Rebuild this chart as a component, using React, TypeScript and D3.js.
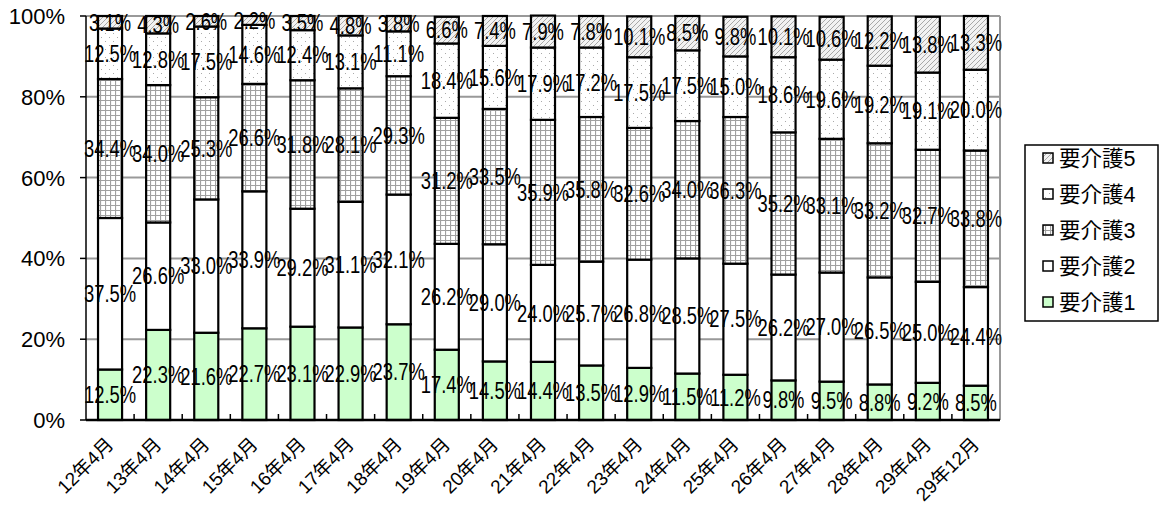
import React from 'react';
import * as d3 from 'd3';

const categories = ['12年4月', '13年4月', '14年4月', '15年4月', '16年4月', '17年4月', '18年4月', '19年4月', '20年4月', '21年4月', '22年4月', '23年4月', '24年4月', '25年4月', '26年4月', '27年4月', '28年4月', '29年4月', '29年12月'];
const kaigo1 = [12.5, 22.3, 21.6, 22.7, 23.1, 22.9, 23.7, 17.4, 14.5, 14.4, 13.5, 12.9, 11.5, 11.2, 9.8, 9.5, 8.8, 9.2, 8.5];
const kaigo2 = [37.5, 26.6, 33.0, 33.9, 29.2, 31.1, 32.1, 26.2, 29.0, 24.0, 25.7, 26.8, 28.5, 27.5, 26.2, 27.0, 26.5, 25.0, 24.4];
const kaigo3 = [34.4, 34.0, 25.3, 26.6, 31.8, 28.1, 29.3, 31.2, 33.5, 35.9, 35.8, 32.6, 34.0, 36.3, 35.2, 33.1, 33.2, 32.7, 33.8];
const kaigo4 = [12.5, 12.8, 17.5, 14.6, 12.4, 13.1, 11.1, 18.4, 15.6, 17.9, 17.2, 17.5, 17.5, 15.0, 18.6, 19.6, 19.2, 19.1, 20.0];
const kaigo5 = [3.1, 4.3, 2.6, 2.2, 3.5, 4.8, 3.8, 6.6, 7.4, 7.9, 7.8, 10.1, 8.5, 9.8, 10.1, 10.6, 12.2, 13.8, 13.3];
const seriesNames = ['要介護1', '要介護2', '要介護3', '要介護4', '要介護5'];
const yTicks = [0, 20, 40, 60, 80, 100];

const W = 1163;
const H = 508;
const numFont = '"Liberation Sans", Arial, sans-serif';
const jpFont = '"Liberation Sans", "Noto Sans CJK JP", sans-serif';

const fills = ['#CCFFCC', '#FFFFFF', 'url(#patGrid)', 'url(#patDots)', 'url(#patHatch)'];

export default function App() {
  const plotL = 86, plotR = 1000, plotT = 16, plotB = 420;
  const x = d3.scaleBand<string>().domain(categories).range([plotL, plotR]).paddingInner(0.5).paddingOuter(0.25);
  const y = d3.scaleLinear().domain([0, 100]).range([plotB, plotT]);
  const allSeries = [kaigo1, kaigo2, kaigo3, kaigo4, kaigo5];
  const rows = categories.map((c, i) => {
    const r: any = { cat: c };
    seriesNames.forEach((k, j) => { r[k] = allSeries[j][i]; });
    return r;
  });
  const stacked = d3.stack<any>().keys(seriesNames)(rows);
  const step = x.step();
  const bw = x.bandwidth();

  return (
    <svg width={W} height={H} style={{ position: 'absolute', left: 0, top: 0, background: '#fff' }}>
      <defs>
        <pattern id="patGrid" patternUnits="userSpaceOnUse" width={5} height={5}>
          <rect width={5} height={5} fill="#fff" />
          <path d="M0,0.5H5M0.5,0V5" stroke="#a0a0a0" strokeWidth={1.2} />
        </pattern>
        <pattern id="patDots" patternUnits="userSpaceOnUse" width={8} height={8}>
          <rect width={8} height={8} fill="#fff" />
          <rect x={1} y={1} width={1} height={1} fill="#aaa" />
          <rect x={5} y={5} width={1} height={1} fill="#aaa" />
        </pattern>
        <pattern id="patHatch" patternUnits="userSpaceOnUse" width={5} height={5}>
          <rect width={5} height={5} fill="#f2f2f2" />
          <path d="M-1,6L6,-1M-1,1L1,-1M4,6L6,4" stroke="#a8a8a8" strokeWidth={1} />
        </pattern>
      </defs>

      {/* gridlines */}
      {yTicks.filter(t => t > 0).map(t => (
        <line key={t} x1={plotL} x2={plotR} y1={y(t)} y2={y(t)} stroke="#999" strokeWidth={2} />
      ))}
      <line x1={plotR} x2={plotR} y1={plotT} y2={plotB} stroke="#999" strokeWidth={2} />

      {/* bars */}
      {stacked.map((s, j) => (
        <g key={s.key}>
          {s.map((d, i) => (
            <rect key={i} x={x(categories[i])} y={y(d[1])} width={bw} height={y(d[0]) - y(d[1])}
              fill={fills[j]} stroke="#000" strokeWidth={2.2} />
          ))}
        </g>
      ))}

      {/* axes */}
      <line x1={plotL} x2={plotL} y1={plotT} y2={plotB} stroke="#000" strokeWidth={1.5} />
      {yTicks.map(t => (
        <g key={t}>
          <line x1={plotL - 6} x2={plotL} y1={y(t)} y2={y(t)} stroke="#000" strokeWidth={1.5} />
          <text x={65} y={y(t)} dy="0.36em" textAnchor="end" fontFamily='"Liberation Sans", Arial, sans-serif' fontSize={22} fill="#000">{t}%</text>
        </g>
      ))}
      {categories.slice(1).map((c) => (
        <line key={c} x1={x(c)! - (step - bw) / 2} x2={x(c)! - (step - bw) / 2} y1={plotB} y2={plotB - 6} stroke="#000" strokeWidth={1.5} />
      ))}
      <line x1={plotL} x2={plotR} y1={plotB} y2={plotB} stroke="#000" strokeWidth={2.5} />

      {/* data labels */}
      {stacked.map((s, j) => (
        <g key={'l' + s.key}>
          {s.map((d, i) => (
            <text key={i} transform={`translate(${x(categories[i])! + bw / 2},${y((d[0] + d[1]) / 2)}) scale(0.8,1)`} dy="0.36em" textAnchor="middle"
              fontFamily={numFont} fontSize={23} fill="#000">{allSeries[j][i].toFixed(1)}%</text>
          ))}
        </g>
      ))}

      {/* x labels */}
      {categories.map(c => {
        const cx = x(c)! + bw / 2;
        return (
          <text key={c} transform={`translate(${cx + 1},${442}) rotate(-45)`} textAnchor="end" dominantBaseline="middle"
            fontFamily={jpFont} fontSize={19} fill="#000">{c}</text>
        );
      })}

      {/* legend */}
      <rect x={1025} y={145} width={133} height={176} fill="#fff" stroke="#000" strokeWidth={1.5} />
      {seriesNames.slice().reverse().map((name, i) => {
        const j = seriesNames.length - 1 - i;
        const yc = 158 + i * 36;
        return (
          <g key={name}>
            <rect x={1043} y={yc - 5} width={10} height={10} fill={fills[j]} stroke="#000" strokeWidth={1.5} />
            <text x={1059} y={yc} dy="0.36em" fontFamily={jpFont} fontSize={21.5} fill="#000">{name}</text>
          </g>
        );
      })}
    </svg>
  );
}
